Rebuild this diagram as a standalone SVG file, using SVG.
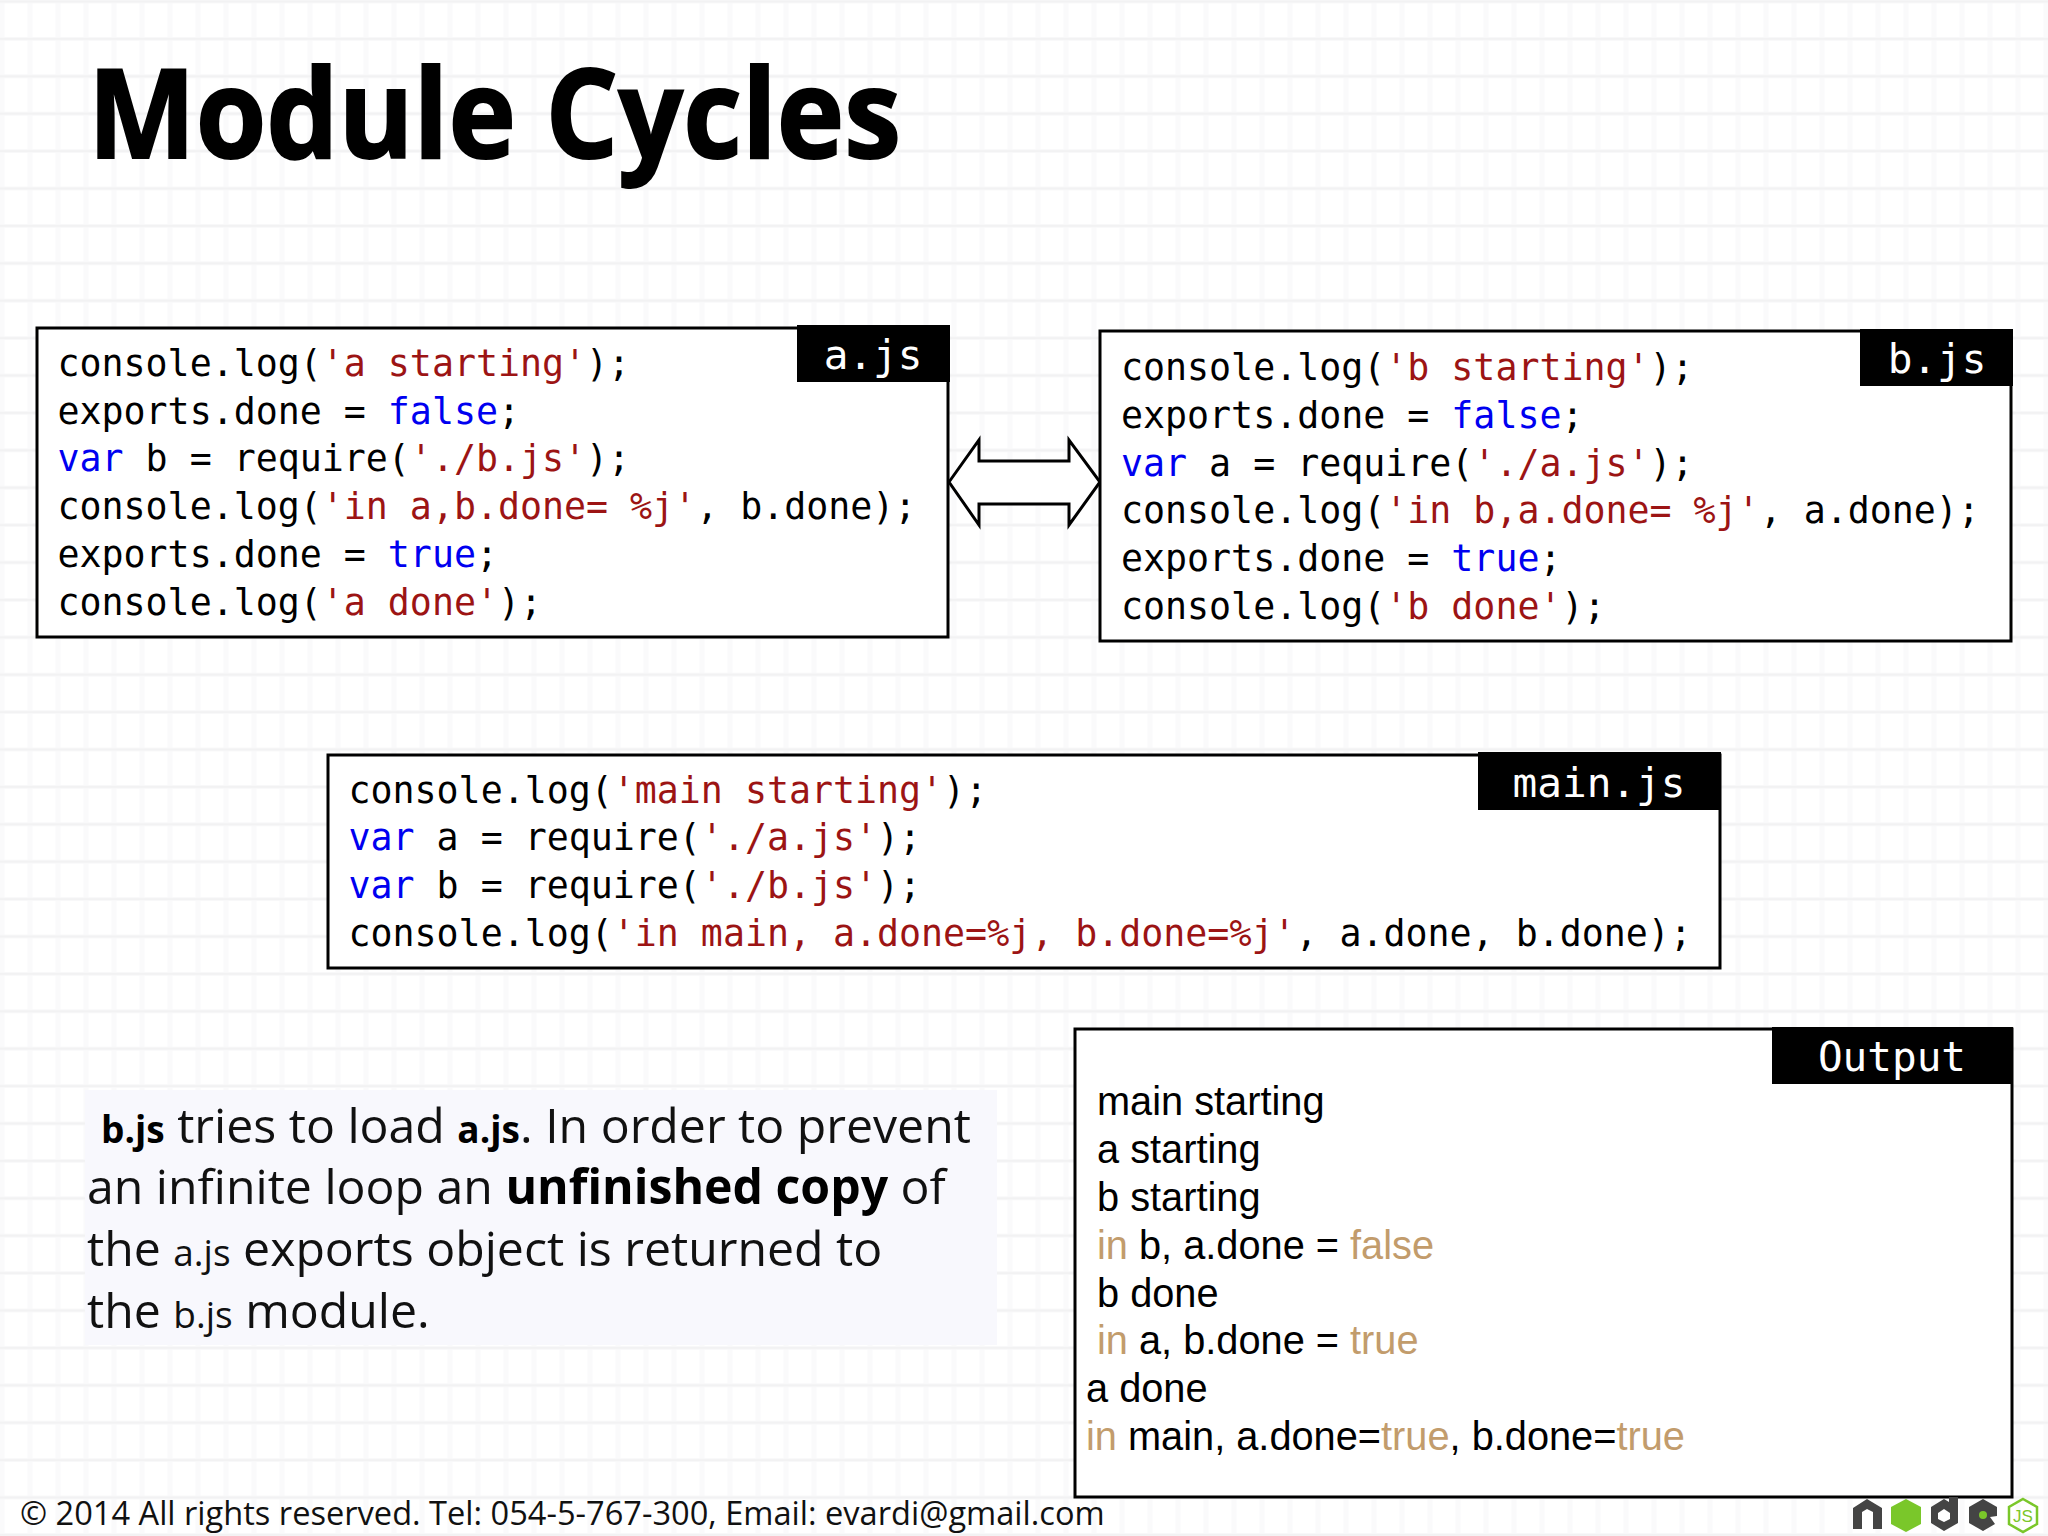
<svg xmlns="http://www.w3.org/2000/svg" width="2048" height="1536" viewBox="0 0 2048 1536">
<defs>
<pattern id="grid" width="28" height="37.4" patternUnits="userSpaceOnUse" x="2" y="1.5">
<path d="M28 0V37.4M0 0V37.4" fill="none" stroke="#fafafb" stroke-width="5"/>
<path d="M0 37.4H28M0 0H28" fill="none" stroke="#f8f8f9" stroke-width="4"/>
<path d="M0 37.4H28M0 0H28" fill="none" stroke="#f1f1f2" stroke-width="1.5"/>
</pattern>
</defs>
<style>
.box{fill:#fff;stroke:#000;stroke-width:3}
.tag{fill:#000}
.tagt{font-family:"DejaVu Sans Mono",monospace;font-size:41px;fill:#fff;text-anchor:middle}
.code{font-family:"DejaVu Sans Mono",monospace;font-size:36.6px;fill:#000}
.s{fill:#9c1414}
.k{fill:#0000f0}
.out{font-family:"Liberation Sans",Arial,sans-serif;font-size:39.75px;fill:#000}
.t{fill:#c29c6c}
.body{font-family:"Open Sans",sans-serif;font-size:48.2px;fill:#111}
.b{font-weight:700;fill:#000}
.sm{font-size:37px}
</style>
<rect width="2048" height="1536" fill="#fff"/>
<rect width="2048" height="1536" fill="url(#grid)"/>
<g id="title"><text x="88" y="158" font-family="Open Sans, sans-serif" font-weight="700" font-size="123" fill="#000" stroke="#000" stroke-width="2" textLength="813" lengthAdjust="spacingAndGlyphs">Module Cycles</text></g>
<g id="connectors">
<path id="double-arrow" d="M949 482L979 440V461H1069V440L1100 482L1069 525V504H979V525Z" fill="#fff" stroke="#000" stroke-width="3"/>
</g>
<g id="a-js">
<rect class="box" x="37" y="328" width="911" height="309"/>
<rect class="tag" x="797" y="325" width="153" height="57"/>
<text class="tagt" x="873" y="369">a.js</text>
<text class="code"><tspan x="57.5" y="375.5">console.log(<tspan class="s">'a starting'</tspan>);</tspan><tspan x="57.5" y="423.5">exports.done = <tspan class="k">false</tspan>;</tspan><tspan x="57.5" y="471"><tspan class="k">var</tspan> b = require(<tspan class="s">'./b.js'</tspan>);</tspan><tspan x="57.5" y="519">console.log(<tspan class="s">'in a,b.done= %j'</tspan>, b.done);</tspan><tspan x="57.5" y="566.5">exports.done = <tspan class="k">true</tspan>;</tspan><tspan x="57.5" y="614.5">console.log(<tspan class="s">'a done'</tspan>);</tspan></text>
</g>
<g id="b-js">
<rect class="box" x="1100" y="331" width="911" height="310"/>
<rect class="tag" x="1860" y="329" width="153" height="57"/>
<text class="tagt" x="1937" y="373">b.js</text>
<text class="code"><tspan x="1121" y="379.5">console.log(<tspan class="s">'b starting'</tspan>);</tspan><tspan x="1121" y="427.5">exports.done = <tspan class="k">false</tspan>;</tspan><tspan x="1121" y="475.5"><tspan class="k">var</tspan> a = require(<tspan class="s">'./a.js'</tspan>);</tspan><tspan x="1121" y="523">console.log(<tspan class="s">'in b,a.done= %j'</tspan>, a.done);</tspan><tspan x="1121" y="571">exports.done = <tspan class="k">true</tspan>;</tspan><tspan x="1121" y="618.5">console.log(<tspan class="s">'b done'</tspan>);</tspan></text>
</g>
<g id="main-js">
<rect class="box" x="328" y="755" width="1392" height="213"/>
<rect class="tag" x="1478" y="752" width="243" height="58"/>
<text class="tagt" x="1599" y="797">main.js</text>
<text class="code"><tspan x="348.5" y="802.5">console.log(<tspan class="s">'main starting'</tspan>);</tspan><tspan x="348.5" y="850"><tspan class="k">var</tspan> a = require(<tspan class="s">'./a.js'</tspan>);</tspan><tspan x="348.5" y="898"><tspan class="k">var</tspan> b = require(<tspan class="s">'./b.js'</tspan>);</tspan><tspan x="348.5" y="946">console.log(<tspan class="s">'in main, a.done=%j, b.done=%j'</tspan>, a.done, b.done);</tspan></text>
</g>
<g id="output">
<rect class="box" x="1075" y="1029" width="937" height="468"/>
<rect class="tag" x="1772" y="1027" width="241" height="57"/>
<text class="tagt" x="1892" y="1071">Output</text>
<text class="out"><tspan x="1097" y="1115">main starting</tspan><tspan x="1097" y="1163">a starting</tspan><tspan x="1097" y="1211">b starting</tspan><tspan x="1097" y="1259"><tspan class="t">in</tspan> b, a.done = <tspan class="t">false</tspan></tspan><tspan x="1097" y="1307">b done</tspan><tspan x="1097" y="1354"><tspan class="t">in</tspan> a, b.done = <tspan class="t">true</tspan></tspan><tspan x="1086" y="1402">a done</tspan><tspan x="1086" y="1450"><tspan class="t">in</tspan> main, a.done=<tspan class="t">true</tspan>, b.done=<tspan class="t">true</tspan></tspan></text>
</g>
<g id="explanation">
<rect x="85" y="1090" width="912" height="255" fill="#f8f8fd"/>
<text class="body"><tspan x="101" y="1143"><tspan class="b sm">b.js</tspan> tries to load <tspan class="b sm">a.js</tspan>. In order to prevent</tspan><tspan x="87" y="1204">an infinite loop an <tspan class="b">unfinished copy</tspan> of</tspan><tspan x="87" y="1266">the <tspan class="sm">a.js</tspan> exports object is returned to</tspan><tspan x="87" y="1328">the <tspan class="sm">b.js</tspan> module.</tspan></text>
</g>
<g id="footer"><text x="20" y="1525" font-family="Open Sans, sans-serif" font-size="32.6" fill="#111">© 2014 All rights reserved. Tel: 054-5-767-300, Email: evardi@gmail.com</text></g>
<g id="node-logo">
<path d="M1853 1508L1867 1499L1882 1508V1529H1873V1512L1867 1509L1862 1512V1529H1853Z" fill="#444"/>
<path d="M1906 1499L1921 1507V1524L1906 1532L1891 1524V1507Z" fill="#7ac72a"/>
<path fill-rule="evenodd" d="M1958 1497V1523L1944 1531L1931 1523V1507L1944 1499L1949 1502V1497ZM1944 1509L1938 1513V1519L1944 1522L1950 1519V1513Z" fill="#444"/>
<path d="M1983 1499L1997 1507V1516L1990 1517L1995 1524L1983 1531L1969 1523V1507Z" fill="#444"/>
<circle cx="1983" cy="1515" r="4" fill="#7ac72a"/>
<path d="M2023 1499L2037 1507V1524L2023 1532L2009 1524V1507Z" fill="none" stroke="#7ac72a" stroke-width="2.5"/>
<text x="2023" y="1522" font-family="Liberation Sans, sans-serif" font-size="17" fill="#7ac72a" text-anchor="middle">JS</text>
</g>
</svg>
